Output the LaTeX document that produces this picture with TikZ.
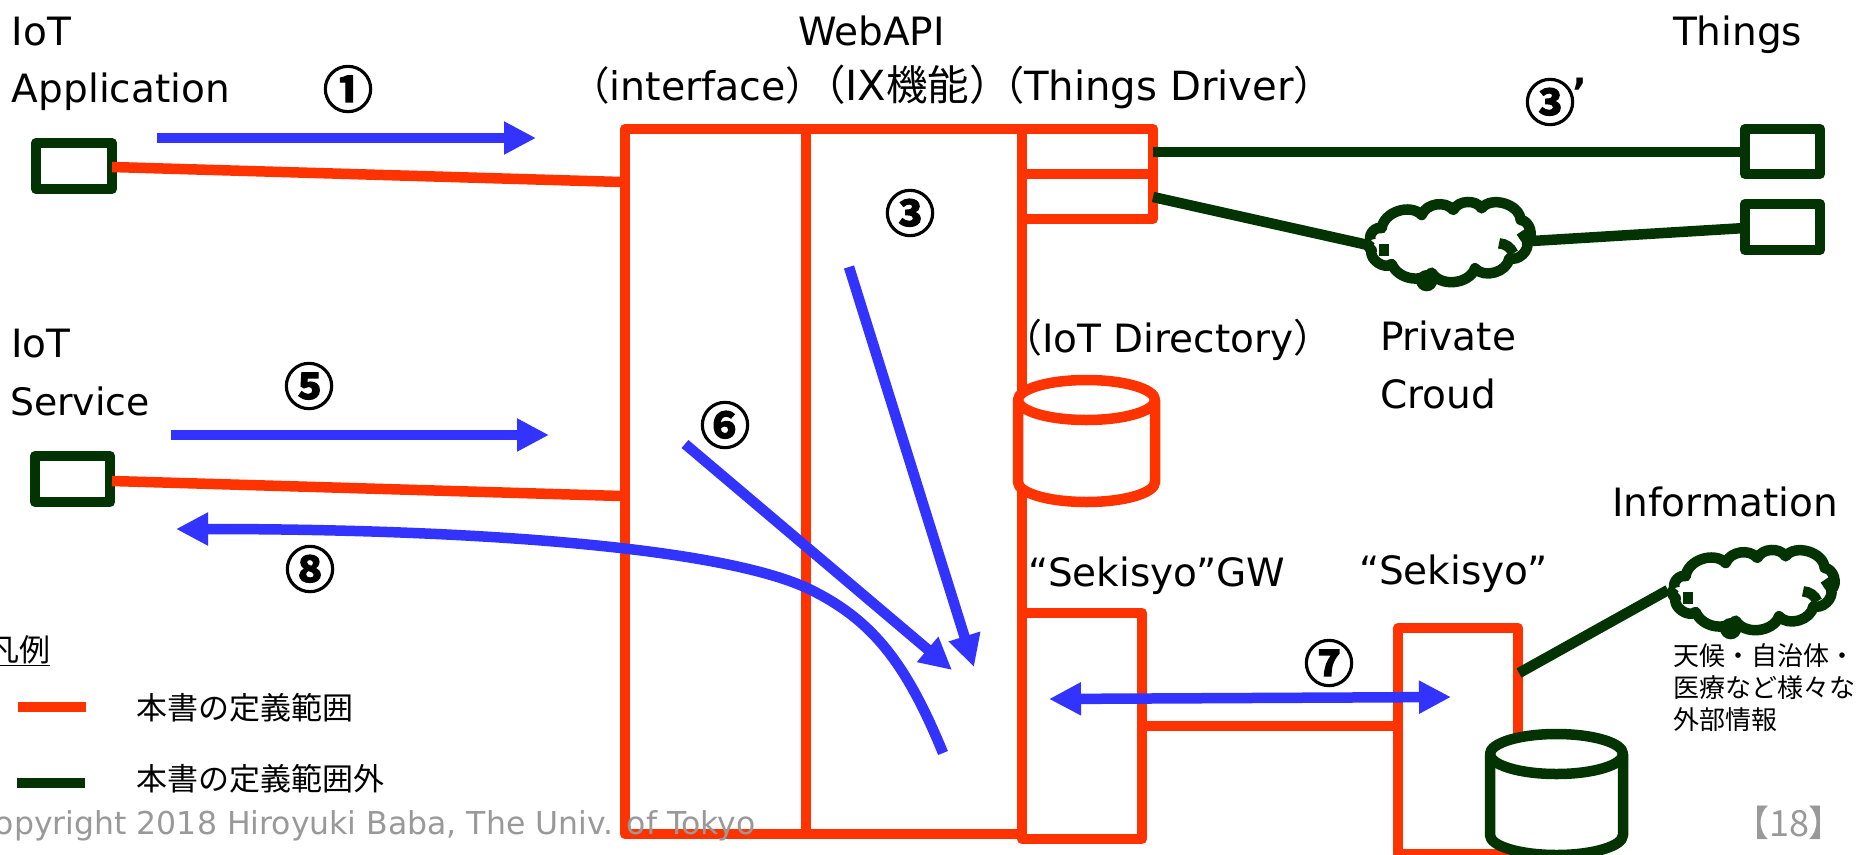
\documentclass[tikz,border=0pt]{standalone}
\usepackage{fontspec}
\setmainfont{DejaVu Sans}
\newfontfamily\cjk{Noto Sans CJK JP}
\newfontfamily\cjkheavy[FakeBold=2.6]{Noto Sans CJK JP Bold}
\usetikzlibrary{arrows.meta}
\definecolor{defred}{HTML}{FF3300}
\definecolor{defgreen}{HTML}{033303}
\definecolor{flowblue}{HTML}{3333FF}
\definecolor{notegray}{HTML}{999999}
\newcommand{\sizeL}{\fontsize{39}{39}\selectfont}
\newcommand{\sizeJ}{\fontsize{31}{31}\selectfont\cjk}
\newcommand{\sizeS}{\fontsize{26}{32}\selectfont\cjk}
\newcommand{\cloudshape}[2]{%
\begin{scope}[shift={(#1)},x=0.3333pt,y=-0.3333pt]
\draw[greenline,line join=round]
 (62,150) to[bend left=70] (95,115)
 to[bend left=65] (215,75)
 to[bend left=60] (310,60)
 to[bend left=60] (395,55)
 to[bend left=70] (512,90)
 to[bend left=70] (532,155)
 to[bend left=60] (478,205)
 to[bend left=65] (375,235)
 to[bend left=65] (245,248)
 to[bend left=55] (125,222)
 to[bend left=75] (65,180)
 to[bend left=70] (62,150);
\draw[greenline] (102,163) -- (102,197);
\draw[greenline] (447,160) to[bend left=30] (490,190);
\draw[greenline] (513,125) -- (530,150);
\fill[defgreen] (230,272) circle (32);
\coordinate (#2) at (0,0);
\end{scope}}
\tikzset{
 redbox/.style={draw=defred,line width=10.5pt,line join=round,inner sep=0pt,outer sep=0pt},
 greenbox/.style={draw=defgreen,line width=10.5pt,line join=round,inner sep=0pt,outer sep=0pt},
 redline/.style={draw=defred,line width=10.5pt},
 greenline/.style={draw=defgreen,line width=10.5pt},
 flow/.style={draw=flowblue,line width=10.5pt,-{Triangle[length=32pt,width=31pt]}},
 flowboth/.style={draw=flowblue,line width=10.5pt,{Triangle[length=32pt,width=31pt]}-{Triangle[length=32pt,width=31pt]}},
 lab/.style={anchor=base west,inner sep=0pt,outer sep=0pt,font=\sizeL},
 jlab/.style={anchor=base west,inner sep=0pt,outer sep=0pt,font=\sizeJ},
 num/.style={inner sep=0pt,outer sep=0pt,font=\fontsize{50}{50}\selectfont\cjkheavy},
 graytxt/.style={anchor=base west,inner sep=0pt,outer sep=0pt,text=notegray},
}
\begin{document}
\begin{tikzpicture}[x=1pt,y=-1pt]
\useasboundingbox (0,0) rectangle (1860,854);
\clip (0,0) rectangle (1860,854);
\fill[white] (0,0) rectangle (1860,854);

% main boxes
\node[redbox,minimum width=181pt,minimum height=705pt] (iface) at (715.5,481.5) {};
\node[redbox,minimum width=216pt,minimum height=705pt] (ixbox) at (914,481.5) {};
\node[redbox,minimum width=131pt,minimum height=45pt] (td1) at (1087.5,151.5) {};
\node[redbox,minimum width=131pt,minimum height=45pt] (td2) at (1087.5,196.5) {};
\node[redbox,minimum width=120pt,minimum height=226pt] (gw) at (1082,726) {};
\node[redbox,minimum width=120pt,minimum height=226pt] (sek) at (1458,741) {};

% end points
\node[greenbox,fill=white,minimum width=76pt,minimum height=46pt] (app) at (74,166) {};
\node[greenbox,fill=white,minimum width=75pt,minimum height=46pt] (svc) at (72.5,479) {};
\node[greenbox,fill=white,minimum width=75pt,minimum height=45pt] (th1) at (1782.5,151.5) {};
\node[greenbox,fill=white,minimum width=75pt,minimum height=46pt] (th2) at (1782.5,227) {};

% free ends
\coordinate (appE) at (112,167);
\coordinate (appM) at (621,182);
\coordinate (svcE) at (112,481);
\coordinate (svcM) at (621,496);
\coordinate (tdA) at (1153,152);
\coordinate (thA) at (1745,152);
\coordinate (tdB) at (1153,197);
\coordinate (cldAw) at (1368,245);
\coordinate (cldAe) at (1532,241);
\coordinate (thB) at (1745,228);
\coordinate (sekE) at (1519,673);
\coordinate (cldBw) at (1668,590);

\draw[redline] (appE) -- (appM);
\draw[redline] (svcE) -- (svcM);
\draw[redline] (gw.east|-0,726) -- (sek.west|-0,726);
\draw[greenline] (tdA) -- (thA);
\draw[greenline] (tdB) -- (cldAw);
\draw[greenline] (cldAe) -- (thB);
\draw[greenline] (sekE) -- (cldBw);

\cloudshape{1350,190}{cloudA}
\cloudshape{1654,538}{cloudB}

% cylinders
\draw[redbox,fill=white] (1018,400) -- (1018,482) arc[start angle=180,end angle=360,x radius=68.5pt,y radius=20pt] -- (1155,400);
\draw[redbox,fill=white] (1086.5,400) ellipse[x radius=68.5pt,y radius=20pt];
\draw[greenbox,fill=white] (1490,754) -- (1490,835) arc[start angle=180,end angle=360,x radius=66.5pt,y radius=20pt] -- (1623,754);
\draw[greenbox,fill=white] (1556.5,754) ellipse[x radius=66.5pt,y radius=20pt];

% flows
\coordinate (f1a) at (157,138);
\coordinate (f1b) at (536,138);
\coordinate (f5a) at (171,435);
\coordinate (f5b) at (549,435);
\coordinate (f3a) at (849,267);
\coordinate (f3b) at (974,667);
\coordinate (f6a) at (685,444);
\coordinate (f6b) at (952,670);
\coordinate (f7a) at (1049,699);
\coordinate (f7b) at (1451,697);
\coordinate (f8a) at (943,753);
\coordinate (f8m) at (807,588);
\coordinate (f8b) at (176,529);
\draw[flow] (f1a) -- (f1b);
\draw[flow] (f5a) -- (f5b);
\draw[flow] (f3a) -- (f3b);
\draw[flow] (f6a) -- (f6b);
\draw[flowboth] (f7a) -- (f7b);
\draw[flow] (f8a) .. controls (905,660) and (870,618) .. (f8m) .. controls (720,548) and (480,529) .. (f8b);

% labels
\node[lab] (l1) at (12,45) {IoT};
\node[lab] (l2) at (12,102) {Application};
\node[lab] (l3) at (11,357) {IoT};
\node[lab,font=\fontsize{37.8}{39}\selectfont] (l4) at (10,415) {Service};
\node[lab] (l5) at (798,45) {WebAPI};
\node[lab,font=\fontsize{39.5}{39}\selectfont] (l6) at (570,100) {{\cjk （}interface{\cjk ）}};
\node[lab,font=\fontsize{41.5}{39}\selectfont] (l7) at (804,100) {{\cjk （}IX{\cjk 機能）}};
\node[lab,font=\fontsize{40.2}{39}\selectfont] (l8) at (984,100) {{\cjk （}Things Driver{\cjk ）}};
\node[lab] (l9) at (1673,45) {Things};
\node[lab] (l10) at (1003,352) {{\cjk （}IoT Directory{\cjk ）}};
\node[lab] (l11) at (1380,350) {Private};
\node[lab] (l12) at (1380,408) {Croud};
\node[lab] (l13) at (1612,516) {Information};
\node[lab] (l14) at (1028,586) {“Sekisyo”GW};
\node[lab] (l15) at (1359,584) {“Sekisyo”};

\node[num] (n1) at (348,89) {①};
\node[num] (n3) at (910,213) {③};
\node[num] (n3p) at (1550,102) {③};
\node[anchor=center,inner sep=0pt,font=\fontsize{39}{39}\selectfont\bfseries] (n3q) at (1580,92) {’};
\node[num] (n5) at (309,386) {⑤};
\node[num] (n6) at (725,425) {⑥};
\node[num] (n7) at (1329,663) {⑦};
\node[num] (n8) at (310,569) {⑧};

% legend
\node[jlab] (lg0) at (-12,661) {\underline{凡例}};
\coordinate (lgRa) at (18,707);
\coordinate (lgRb) at (86,707);
\coordinate (lgGa) at (17,783);
\coordinate (lgGb) at (85,783);
\draw[redline] (lgRa) -- (lgRb);
\draw[greenline] (lgGa) -- (lgGb);
\node[jlab] (lg1) at (136,719) {本書の定義範囲};
\node[jlab] (lg2) at (136,790) {本書の定義範囲外};

\node[anchor=base west,inner sep=0pt,font=\sizeS] (inf1) at (1673,665) {天候・自治体・};
\node[anchor=base west,inner sep=0pt,font=\sizeS] (inf2) at (1673,697) {医療など様々な};
\node[anchor=base west,inner sep=0pt,font=\sizeS] (inf3) at (1673,729) {外部情報};

\node[graytxt,font=\fontsize{31.5}{33}\selectfont] (copy) at (-27,834) {Copyright 2018 Hiroyuki Baba, The Univ. of Tokyo};
\node[graytxt,font=\fontsize{36}{36}\selectfont\cjk] (page) at (1733,836) {【18】};
\end{tikzpicture}
\end{document}
